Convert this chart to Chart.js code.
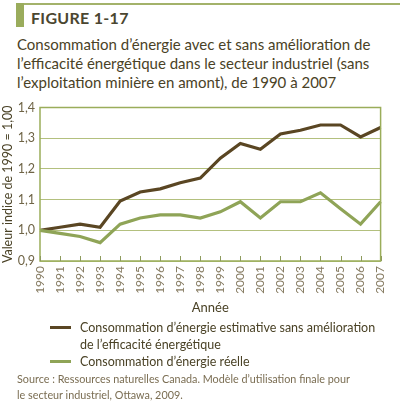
<!DOCTYPE html>
<html>
<head>
<meta charset="utf-8">
<script src="https://cdn.jsdelivr.net/npm/chart.js@4"></script>
<style>
  body { margin: 0; background: #fff; font-family: Lato, "Open Sans", sans-serif; color: #4a4226; }
  #wrap { position: relative; width: 400px; height: 415px; overflow: hidden; }
  .topline { position: absolute; left: 16px; top: 3px; width: 384px; height: 2px; background: #a3b26a; }
  .bar { position: absolute; left: 16px; top: 3px; width: 8px; height: 24px; background: #9aac5c; }
  .fig { position: absolute; left: 31px; top: 8px; font-size: 16px; font-weight: bold; color: #4b4630; letter-spacing: 0.3px; }
  .title { position: absolute; left: 17px; top: 35px; font-size: 15px; line-height: 19px; color: #4a4226; }
  #box { position: absolute; left: 0; top: 95px; width: 400px; height: 225px; }
  .legend { position: absolute; left: 50px; top: 319px; font-size: 12.5px; line-height: 17px; color: #4a4226; }
  .legend .row { position: relative; padding-left: 30px; }
  .legend .sw { position: absolute; left: 0; top: 7px; width: 21px; height: 3px; }
  .src { position: absolute; left: 17px; top: 371px; font-size: 10.8px; line-height: 16px; color: #7a6d52; }
</style>
</head>
<body>
<div id="wrap">
  <div class="topline"></div>
  <div class="bar"></div>
  <div class="fig">FIGURE 1-17</div>
  <div class="title">Consommation d’énergie avec et sans amélioration de<br>l’efficacité énergétique dans le secteur industriel (sans<br>l’exploitation minière en amont), de 1990 à 2007</div>
  <div id="box"><canvas id="chart" width="400" height="225"></canvas></div>
  <div class="legend">
    <div class="row"><span class="sw" style="background:#5a4623"></span>Consommation d’énergie estimative sans amélioration<br>de l’efficacité énergétique</div>
    <div class="row"><span class="sw" style="background:#8fa457"></span>Consommation d’énergie réelle</div>
  </div>
  <div class="src">Source : Ressources naturelles Canada. Modèle d’utilisation finale pour<br>le secteur industriel, Ottawa, 2009.</div>
</div>
<script>
const years = ['1990','1991','1992','1993','1994','1995','1996','1997','1998','1999','2000','2001','2002','2003','2004','2005','2006','2007'];
const sansAmelioration = [1.00, 1.01, 1.02, 1.01, 1.095, 1.125, 1.135, 1.155, 1.17, 1.235, 1.283, 1.264, 1.314, 1.326, 1.343, 1.343, 1.304, 1.335];
const reelle = [1.00, 0.99, 0.98, 0.96, 1.02, 1.04, 1.05, 1.05, 1.04, 1.06, 1.093, 1.04, 1.093, 1.093, 1.122, 1.07, 1.02, 1.093];
const yTicks = [0.9, 1.0, 1.1, 1.2, 1.3, 1.4];

const frame = {
    id: 'frame',
    afterDraw(chart) {
        const ctx = chart.ctx;
        const a = chart.chartArea;
        const x = chart.scales.x;
        ctx.save();
        ctx.strokeStyle = '#9aad5a';
        ctx.lineWidth = 1.5;
        ctx.strokeRect(a.left, a.top, a.right - a.left, a.bottom - a.top);
        // small ticks pointing up from the bottom edge
        ctx.lineWidth = 1;
        ctx.strokeStyle = '#8d9a5c';
        years.forEach((y, i) => {
            const px = Math.round(x.getPixelForValue(i)) + 0.5;
            ctx.beginPath();
            ctx.moveTo(px, a.bottom);
            ctx.lineTo(px, a.bottom - 5);
            ctx.stroke();
        });
        ctx.restore();
    }
};

new Chart(document.getElementById('chart'), {
    type: 'line',
    data: {
        labels: years,
        datasets: [
            { data: reelle, borderColor: '#8fa457', borderWidth: 3.2, pointRadius: 0, tension: 0 },
            { data: sansAmelioration, borderColor: '#5a4623', borderWidth: 3.2, pointRadius: 0, tension: 0 }
        ]
    },
    options: {
        responsive: false,
        animation: false,
        layout: { padding: { top: 10, right: 8, left: 0, bottom: 0 } },
        plugins: { legend: { display: false }, tooltip: { enabled: false } },
        scales: {
            x: {
                offset: false,
                grid: { display: false, drawTicks: false },
                border: { display: false },
                ticks: {
                    minRotation: 90, maxRotation: 90, padding: 5,
                    color: '#857a60', font: { family: 'Lato', size: 12 }
                },
                title: { display: true, text: 'Année', color: '#4a4226', font: { family: 'Lato', size: 13 }, padding: { top: 6 } },
                afterFit(s) { s.height = 59; }
            },
            y: {
                min: 0.9, max: 1.4,
                afterBuildTicks(s) { s.ticks = yTicks.map(v => ({ value: v })); },
                grid: { color: '#b3c07e', lineWidth: 1, drawTicks: false },
                border: { display: false },
                ticks: {
                    padding: 5, color: '#6f6446', font: { family: 'Lato', size: 12.5 },
                    callback: v => v.toFixed(1).replace('.', ',')
                },
                title: { display: true, text: 'Valeur indice de 1990 = 1,00', color: '#4a4226', font: { family: 'Lato', size: 12.5 }, padding: 0 },
                afterFit(s) { s.width = 40; }
            }
        }
    },
    plugins: [frame]
});
</script>
</body>
</html>
